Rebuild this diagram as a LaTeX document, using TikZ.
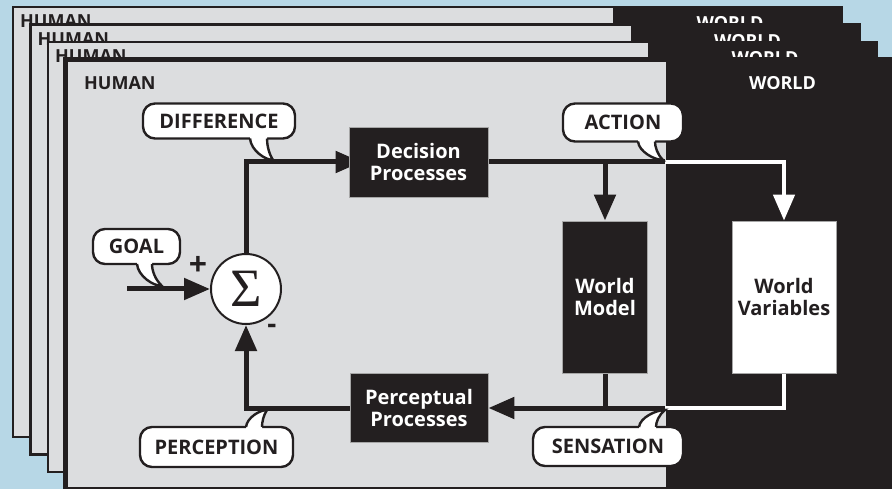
\documentclass[tikz,border=0pt]{standalone}
\usepackage{fontspec}
\setmainfont{Open Sans}
\newfontfamily\sigmafont{Liberation Serif}
\usetikzlibrary{arrows.meta}
\definecolor{bgblue}{HTML}{B7D7E6}
\definecolor{panel}{HTML}{DCDDDF}
\definecolor{ink}{HTML}{231F20}

\pgfdeclarelayer{panels}
\pgfdeclarelayer{wires}
\pgfsetlayers{panels,wires,main}

% speech-bubble tail: #1 left base x, #2 right base x, #3 base y,
% #4 tip x, #5 tip y
\newcommand\bubbletail[5]{%
  \fill[white] (#1,#3) .. controls ({#1+1},{#3+0.55*(#5-#3)}) and ({#4-0.35*(#4-#1)},#5) .. (#4,#5)
     .. controls ({#2+0.3*(#4-#2)},{#5-0.3*(#5-#3)}) and (#2,{#3+0.3*(#5-#3)}) .. (#2,#3)
     -- (#2,{#3-3*sign(#5-#3)}) -- (#1,{#3-3*sign(#5-#3)}) -- cycle;
  \draw[tailline] (#1,#3) .. controls ({#1+1},{#3+0.55*(#5-#3)}) and ({#4-0.35*(#4-#1)},#5) .. (#4,#5)
     .. controls ({#2+0.3*(#4-#2)},{#5-0.3*(#5-#3)}) and (#2,{#3+0.3*(#5-#3)}) .. (#2,#3);
}

\begin{document}
\begin{tikzpicture}[x=1pt,y=-1pt,
  lbl/.style={font=\fontsize{18}{21}\selectfont\bfseries, inner sep=0pt},
  procbox/.style={fill=ink, draw=gray!70, line width=0.8pt, text=white, align=center,
    font=\fontsize{20}{21.5}\selectfont\bfseries, inner sep=0pt},
  varbox/.style={procbox, fill=white, text=ink},
  bubble/.style={fill=white, draw=ink, line width=2.4pt, rounded corners=12pt,
    font=\fontsize{20}{21}\selectfont\bfseries, text=ink, inner sep=0pt},
  tailline/.style={draw=ink, line width=2.4pt},
  wire/.style={draw=ink, line width=5pt},
  wwire/.style={draw=white, line width=4.5pt},
  arr/.style={-{Triangle[length=26pt,width=21pt]}},
  warr/.style={-{Triangle[length=26pt,width=21pt,fill=white]}},
]
\useasboundingbox (0,0) rectangle (892,489);

\begin{pgfonlayer}{panels}
\fill[bgblue] (0,0) rectangle (892,489);
% stacked panels behind the front one
\foreach \i/\px/\py/\hy/\wy in {1/13/7/28/30, 2/30.5/24.5/45.5/48, 3/48/42/63/65}{
  \fill[panel] (\px,\py) rectangle ++(829,430);
  \fill[ink] ({\px+600},\py) rectangle ++(229,430);
  \draw[ink, line width=2.2pt] (\px,\py) rectangle ++(829,430);
  \node[lbl, anchor=base west, text=ink] (human\i) at ({\px+7},\hy) {HUMAN};
  \node[lbl, anchor=base, text=white] (world\i) at ({\px+717},\wy) {WORLD};
}
% front panel
\fill[panel] (65.5,59.5) rectangle ++(829,430);
\fill[ink] (665.5,59.5) rectangle ++(229,430);
\draw[ink, line width=5pt] (65.5,59.5) rectangle ++(829,430);
\node[lbl, anchor=base west, text=ink] (human4) at (84,90) {HUMAN};
\node[lbl, anchor=base, text=white] (world4) at (782.5,90) {WORLD};
\end{pgfonlayer}

% blocks
\node[circle, fill=white, draw=ink, line width=2pt, minimum size=70pt, inner sep=0pt]
  (sum) at (246,289) {};
\node[inner sep=0pt, text=ink, font=\sigmafont\fontsize{54}{54}\selectfont] (sigma) at (246,289) {Σ};
\node[procbox, minimum width=139pt, minimum height=70pt] (dec) at (418.5,162) {Decision\\Processes};
\node[procbox, minimum width=85pt, minimum height=152pt] (wm) at (605,297) {World\\Model};
\node[varbox, minimum width=104pt, minimum height=152pt] (wv) at (784,297) {World\\Variables};
\node[procbox, minimum width=138pt, minimum height=69pt] (pp) at (419,408) {Perceptual\\Processes};

\coordinate (goalin) at (127,289);
\coordinate (actsplit) at (665,162);
\coordinate (wmsplit) at (605,162);
\coordinate (senjoin) at (665,408);
\coordinate (wmjoin) at (605,408);

% connectors, beneath the blocks
\begin{pgfonlayer}{wires}
\draw[wire, arr] (goalin) -- (sum.west);
\draw[wire, arr] (sum.north) |- ([xshift=13pt]dec.west);
\draw[wire] (dec.east) -- (actsplit);
\draw[wire, arr] (wmsplit) -- (wm.north);
\draw[wwire, warr] (actsplit) -| (wv.north);
\draw[wwire] (wv.south) |- (senjoin);
\draw[wire] (wm.south) -- (wmjoin);
\draw[wire, arr] (senjoin) -- (pp.east);
\draw[wire, arr] (pp.west) -| (sum.south);
\end{pgfonlayer}

% signs at the summing junction
\node[font=\fontsize{32}{32}\selectfont\bfseries, text=ink, inner sep=0pt] (plus) at (198,266) {+};
\node[font=\fontsize{28}{28}\selectfont\bfseries, text=ink, inner sep=0pt] (minus) at (272,329) {-};

% speech bubbles
\node[bubble, minimum width=152pt, minimum height=35pt] (diff) at (219,121) {DIFFERENCE};
\bubbletail{250}{267}{138.5}{273}{160}
\node[bubble, minimum width=120pt, minimum height=38pt] (act) at (623,122.5) {ACTION};
\bubbletail{638}{655}{141.5}{663}{160}
\node[bubble, minimum width=87pt, minimum height=35pt] (goal) at (136.5,246.5) {GOAL};
\bubbletail{137}{152}{264}{162}{286}
\node[bubble, minimum width=153pt, minimum height=40pt] (perc) at (216.5,447) {PERCEPTION};
\bubbletail{246}{262}{427}{267}{410}
\node[bubble, minimum width=150pt, minimum height=39pt] (sens) at (608,446.5) {SENSATION};
\bubbletail{639}{656}{427}{665}{410}
\end{tikzpicture}
\end{document}
